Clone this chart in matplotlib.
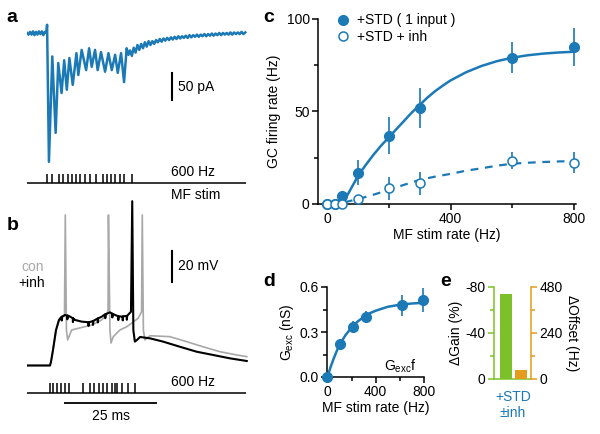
import matplotlib
matplotlib.use('Agg')
import matplotlib.pyplot as plt
from matplotlib.ticker import MultipleLocator
from matplotlib.lines import Line2D

plt.rcParams['font.family'] = ['Liberation Sans', 'DejaVu Sans']
plt.rcParams['font.size'] = 10
plt.rcParams['axes.linewidth'] = 1.1
plt.rcParams['xtick.major.width'] = 1.1
plt.rcParams['ytick.major.width'] = 1.1
plt.rcParams['xtick.minor.width'] = 1.1
plt.rcParams['ytick.minor.width'] = 1.1
plt.rcParams['xtick.major.size'] = 4
plt.rcParams['ytick.major.size'] = 4
plt.rcParams['xtick.minor.size'] = 3
plt.rcParams['ytick.minor.size'] = 3
plt.rcParams['mathtext.fontset'] = 'custom'
plt.rcParams['mathtext.rm'] = 'Liberation Sans'

BLUE = '#1b79b6'
GRAY = '#a8a8a8'
GREEN = '#7cc12a'
ORANGE = '#e59b1c'

# ---------------- panel a: EPSC trace (ms, pA) ----------------
a_t = [0, 0.4, 0.8, 1.2, 1.6, 2.0, 2.4, 2.8, 3.2, 3.6, 4.0, 4.4, 4.8, 5.2,
       5.4, 5.9, 6.8, 7.7, 8.4, 9.3, 10.0, 10.7, 11.4, 12.3, 13.3, 13.8, 14.7,
       15.9, 16.7, 17.4, 18.3, 19.0, 19.9, 21.0, 21.9, 22.8, 23.7, 24.4, 25.3,
       26.1, 26.8, 27.3, 27.7, 28.2, 28.7, 29.2, 29.7, 30.2, 30.7, 31.2, 31.7,
       32.2, 32.7, 33.2,
       33.7, 34.2, 34.7, 35.2, 35.7, 36.2, 36.7, 37.2, 37.7, 38.2, 38.7, 39.2,
       39.7, 40.2, 40.7, 41.2, 41.7, 42.2, 42.7, 43.2, 43.7, 44.2, 44.7, 45.2,
       45.7, 46.2, 46.7, 47.2, 47.7, 48.2, 48.7, 49.2, 49.7, 50.2, 50.7, 51.2,
       51.7, 52.2, 52.7, 53.2, 53.7, 54.2, 54.7, 55.2, 55.7, 56.2, 56.7, 57.2,
       57.7, 58.2, 58.7]
a_i = [0, -3, 2, -3, 3, -4, 2, -3, 3, -2, 3, -4, 2, 0,
       15, -236, -43, -183, -55, -110, -50, -104, -46, -95, -37, -77, -31,
       -68, -28, -62, -31, -68, -35, -71, -37, -68, -40, -73, -37,
       -90, -28, -40, -32, -42, -27, -36, -22, -31, -20, -28, -17,
       -25, -15, -22,
       -15, -20, -13, -17, -11, -16, -10, -14, -9, -13, -8, -12,
       -7, -11, -6, -10, -6, -9, -5, -9, -4, -8, -4, -7,
       -3, -7, -3, -6, -2, -6, -2, -5, -1, -5, -1, -4,
       0, -4, 0, -3, 0, -3, 1, -3, 1, -2, 1, -2,
       2, -2, 1]
a_stim = [5.46, 6.64, 8.68, 9.76, 10.94, 12.02, 13.09, 14.25, 15.59, 16.94,
          18.47, 20.35, 21.51, 22.58, 23.74, 25.0, 26.16, 28.31]

# ---------------- panel b: voltage traces (ms, mV rel. rest) ----------------
b_con_t = [0, 6.18, 6.45, 6.99, 7.8, 8.6, 9.4, 10.08, 10.3, 10.6, 10.94, 12.0,
           13.8, 17.4, 20.1, 21.4, 21.8, 21.9, 22.3, 22.6, 23.2, 25.0, 26.8,
           28.1, 29.9, 30.8, 31.0, 31.3, 31.7, 32.3, 33.1, 38.4, 42.9, 47.3,
           51.9, 56.4, 59.1]
b_con_v = [0, 0, 2.3, 10, 22.3, 28.7, 31.0, 31.9, 97.1, 22.9, 16.5, 22.9,
           24.0, 26.1, 29.4, 32.6, 35.8, 97.1, 22.9, 14.5, 18.6, 22.9, 25.0,
           27.2, 30.5, 34.5, 97.1, 22.9, 16.5, 17.7, 19.2, 18.6, 15.4, 12.1,
           8.9, 6.8, 5.7]
b_inh_t = [0, 6.18, 6.45, 6.99, 7.8, 8.6, 9.3, 9.35, 9.45, 10.2, 10.8, 10.85,
           10.95, 11.6, 12.3, 12.35, 12.45, 12.9, 14.7, 16.5, 16.55, 16.65, 17.7,
           17.75, 17.85, 18.3, 19.0, 19.05, 19.15, 20.1, 21.0, 21.05, 21.15,
           22.3, 22.9, 22.95, 23.05, 23.7, 24.5, 24.55, 24.65, 25.5, 25.7, 25.75,
           25.85, 26.8, 26.85, 26.95, 27.96, 28.3, 28.6, 29.0, 29.6, 30.4, 33.1,
           36.6, 41.1, 45.6, 50.0, 54.6, 59.1]
b_inh_v = [0, 0, 2.3, 10, 22.9, 29.4, 31.5, 29.0, 31.5, 32.6, 32.2, 29.8,
           32.2, 31.5, 30.5, 28.0, 30.4, 29.4, 28.3, 27.9, 25.5, 27.9, 28.6,
           26.2, 28.7, 29.4, 30.3, 27.8, 30.4, 31.5, 33.0, 30.5, 33.1,
           34.3, 33.5, 31.0, 33.3, 32.6, 31.8, 29.3, 31.8, 31.5, 31.6, 29.1,
           31.7, 32.0, 29.5, 32.1, 34.7, 106.0, 22.9, 15.4, 16.5, 18.4, 17.5,
           15.4, 12.1, 8.9, 6.8, 4.6, 2.9]
b_stim = [6.18, 6.91, 8.15, 9.14, 10.2, 11.4, 15.0, 16.9, 18.1, 19.4, 20.5,
          21.6, 22.8, 23.7, 24.3, 25.5, 27.1, 29.0]

# ---------------- panel c ----------------
c_rate = [0, 25, 50, 100, 200, 300, 600, 800]
c_std = [0, 0, 4.3, 17, 37, 52, 79, 84.7]
c_std_err = [0, 0, 1.5, 6.6, 10, 10.8, 8.4, 10.3]
c_inh = [0, 0, 0, 2.7, 8.5, 11.2, 23.4, 22.3]
c_inh_err = [0, 0, 0, 1.2, 6.3, 6.3, 4.5, 5.8]
c_fit_rate = [50, 60, 75, 90, 100, 125, 150, 175, 200, 225, 250, 275, 300, 325,
              350, 375, 400, 450, 500, 550, 600, 650, 700, 750, 800]
c_fit_std = [0.5, 3, 7.5, 12, 15, 21, 26.5, 31.5, 36, 40.5, 45, 49.5, 53.5, 57.5,
             61, 64, 66.8, 71.2, 74.6, 77.2, 79.1, 80.4, 81.3, 81.9, 82.3]
c_fit_inh_rate = [58, 100, 150, 200, 250, 300, 350, 400, 450, 500, 550, 600,
                  650, 700, 750, 800]
c_fit_inh = [1.0, 2.6, 5.0, 7.6, 10.4, 13.0, 14.8, 16.3, 18.0, 19.3, 20.7,
             21.8, 22.3, 22.7, 23.0, 23.2]

# ---------------- panel d ----------------
d_rate = [0, 100, 210, 320, 620, 790]
d_g = [0, 0.218, 0.335, 0.398, 0.478, 0.513]
d_g_err = [0, 0.02, 0.04, 0.04, 0.07, 0.078]
d_fit_rate = [0, 25, 50, 75, 100, 150, 200, 250, 300, 350, 400, 500, 600, 700, 800]
d_fit_g = [0, 0.065, 0.12, 0.17, 0.215, 0.28, 0.33, 0.37, 0.40, 0.425, 0.442,
           0.468, 0.482, 0.49, 0.495]

# ---------------- panel e ----------------
e_gain = -74.0
e_offset = 45.0

W, H = 600, 434


def box(x0, y0, x1, y1):
    return [x0 / W, 1 - y1 / H, (x1 - x0) / W, (y1 - y0) / H]


fig = plt.figure(figsize=(6, 4.34), dpi=100)

# ---- panel a
ax_a = fig.add_axes(box(27, 0, 249, 170))
ax_a.set_xlim(0, 59.7)
ax_a.set_ylim(-251, 60.4)
ax_a.axis('off')
ax_a.plot(a_t, a_i, color=BLUE, lw=1.8, solid_joinstyle='round')
ax_a.plot([39, 39], [-73.3, -123.3], color='k', lw=1.5)
ax_a.text(40.6, -98.3, '50 pA', ha='left', va='center', fontsize=10)

ax_ar = fig.add_axes(box(27, 165, 249, 190))
ax_ar.set_xlim(0, 59.7)
ax_ar.set_ylim(0, 1)
ax_ar.axis('off')
ax_ar.hlines(0.28, 0, 58.9, color='k', lw=1.1)
ax_ar.vlines(a_stim, 0.28, 0.64, color='k', lw=1.1)
ax_ar.text(38.7, 0.72, '600 Hz', ha='left', va='center', fontsize=10)
fig.text(171 / W, 1 - 195 / H, 'MF stim', ha='left', va='center', fontsize=10)

# ---- panel b
ax_b = fig.add_axes(box(27, 195, 249, 372))
ax_b.set_xlim(0, 59.7)
ax_b.set_ylim(-4.2, 110)
ax_b.axis('off')
ax_b.plot(b_con_t, b_con_v, color=GRAY, lw=1.2)
ax_b.plot(b_inh_t, b_inh_v, color='k', lw=1.5)
ax_b.plot([39, 39], [73.9, 53.9], color='k', lw=1.5)
ax_b.text(40.6, 63.9, '20 mV', ha='left', va='center', fontsize=10)
fig.text(44 / W, 1 - 267 / H, 'con', ha='right', va='center', color=GRAY, fontsize=10)
fig.text(45 / W, 1 - 283 / H, '+inh', ha='right', va='center', color='k', fontsize=10)

ax_br = fig.add_axes(box(27, 375, 249, 420))
ax_br.set_xlim(0, 59.7)
ax_br.set_ylim(0, 1)
ax_br.axis('off')
ax_br.hlines(0.6, 0, 58.9, color='k', lw=1.1)
ax_br.vlines(b_stim, 0.6, 0.822, color='k', lw=1.1)
ax_br.hlines(0.378, 10, 35, color='k', lw=1.3)
ax_br.text(22.5, 0.1, '25 ms', ha='center', va='center', fontsize=10)
ax_br.text(38.7, 0.84, '600 Hz', ha='left', va='center', fontsize=10)

# ---- panel c
ax_c = fig.add_axes(box(318, 19, 576, 204))
ax_c.set_xlim(-29, 806)
ax_c.set_ylim(0, 100)
for s in ['top', 'right']:
    ax_c.spines[s].set_visible(False)
ax_c.plot(c_fit_rate, c_fit_std, color=BLUE, lw=1.8, zorder=2)
ax_c.plot(c_fit_inh_rate, c_fit_inh, color=BLUE, lw=1.6, ls=(0, (3.5, 3)), zorder=2)
ax_c.errorbar(c_rate, c_std, yerr=c_std_err, fmt='o', color=BLUE, ms=7, elinewidth=1.2,
              capsize=0, clip_on=False, zorder=3)
ax_c.errorbar(c_rate, c_inh, yerr=c_inh_err, fmt='o', color=BLUE, mfc='white', mec=BLUE,
              mew=1.1, ms=6.5, elinewidth=1.2, capsize=0, clip_on=False, zorder=4)
ax_c.set_yticks([0, 50, 100])
ax_c.yaxis.set_minor_locator(MultipleLocator(25))
ax_c.set_xticks([0, 400, 800])
ax_c.xaxis.set_minor_locator(MultipleLocator(200))
ax_c.tick_params(labelsize=10, pad=2)
ax_c.set_ylabel('GC firing rate (Hz)', fontsize=10, labelpad=4)
ax_c.set_xlabel('MF stim rate (Hz)', fontsize=10, labelpad=1)
handles = [Line2D([], [], ls='none', marker='o', color=BLUE, ms=7),
           Line2D([], [], ls='none', marker='o', mfc='white', mec=BLUE, mew=1.1, ms=6.5)]
ax_c.legend(handles, ['+STD ( 1 input )', '+STD + inh'], loc='upper left',
            bbox_to_anchor=(0.075, 1.03), frameon=False,
            handlelength=0.8, handletextpad=0.6, labelspacing=0.15,
            borderaxespad=0, borderpad=0, fontsize=10)

# ---- panel d
ax_d = fig.add_axes(box(327.5, 287, 424, 377))
ax_d.set_xlim(0, 800)
ax_d.set_ylim(0, 0.6)
for s in ['top', 'right']:
    ax_d.spines[s].set_visible(False)
ax_d.plot(d_fit_rate, d_fit_g, color=BLUE, lw=1.8, zorder=2)
ax_d.errorbar(d_rate, d_g, yerr=d_g_err, fmt='o', color=BLUE, ms=7, elinewidth=1.2,
              capsize=0, clip_on=False, zorder=3)
ax_d.set_yticks([0, 0.3, 0.6])
ax_d.set_yticklabels(['0.0', '0.3', '0.6'])
ax_d.yaxis.set_minor_locator(MultipleLocator(0.15))
ax_d.set_xticks([0, 400, 800])
ax_d.xaxis.set_minor_locator(MultipleLocator(200))
ax_d.tick_params(labelsize=10, pad=2)
ax_d.set_ylabel(r'G$_{\mathrm{exc}}$ (nS)', fontsize=10, labelpad=3)
ax_d.set_xlabel('MF stim rate (Hz)', fontsize=10, labelpad=1)
ax_d.text(0.92, 0.12, r'G$_{\mathrm{exc}}$f', transform=ax_d.transAxes, ha='right',
          va='center', fontsize=10)

# ---- panel e
ax_e = fig.add_axes(box(494, 287, 531, 379))
ax_e.set_xlim(0, 1)
ax_e.set_ylim(0, -80)
ax_e.spines['top'].set_visible(False)
ax_e.spines['right'].set_visible(False)
ax_e.spines['left'].set_color(GREEN)
ax_e.spines['bottom'].set_color(GREEN)
ax_e.bar([0.32], [e_gain], width=0.32, color=GREEN)
ax_e.set_yticks([0, -40, -80])
ax_e.set_yticklabels(['0', '-40', '-80'])
ax_e.yaxis.set_minor_locator(MultipleLocator(20))
ax_e.tick_params(axis='y', which='both', colors=GREEN, labelcolor='k', labelsize=10, pad=2)
ax_e.set_xticks([])
ax_e.set_ylabel('ΔGain (%)', fontsize=10, labelpad=2)

ax_e2 = ax_e.twinx()
ax_e2.set_ylim(0, 480)
for s in ['top', 'left', 'bottom']:
    ax_e2.spines[s].set_visible(False)
ax_e2.spines['right'].set_color(ORANGE)
ax_e2.bar([0.72], [e_offset], width=0.32, color=ORANGE)
ax_e2.set_yticks([0, 240, 480])
ax_e2.yaxis.set_minor_locator(MultipleLocator(120))
ax_e2.tick_params(axis='y', which='both', colors=ORANGE, labelcolor='k', labelsize=10, pad=2)
ax_e2.set_ylabel('ΔOffset (Hz)', fontsize=10, rotation=270, labelpad=12)
fig.text(513 / W, 1 - 405 / H, '+STD\n±inh', ha='center', va='center', color=BLUE,
         fontsize=10, linespacing=1.2)

# ---- panel letters
for lab, x, y in [('a', 12, 17), ('b', 13, 226), ('c', 269, 17), ('d', 269, 282), ('e', 446, 282)]:
    fig.text(x / W, 1 - y / H, lab, ha='center', va='center', fontsize=14, fontweight='bold')

fig.savefig('out.png', dpi=100)
